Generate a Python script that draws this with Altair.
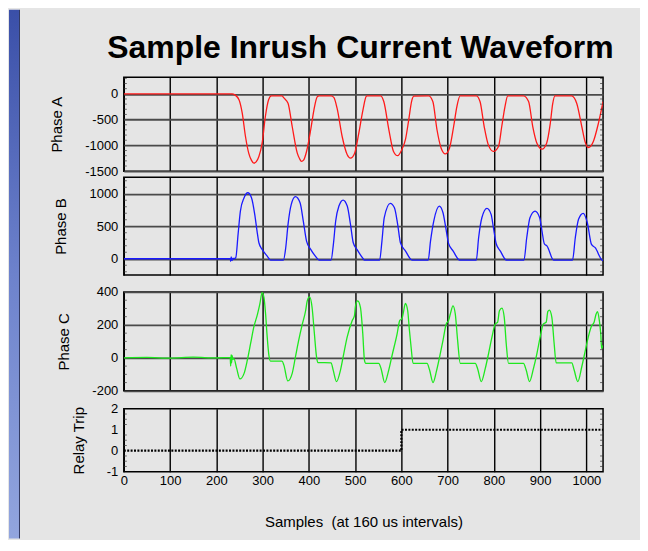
import altair as alt
import pandas as pd

# ---------------- data ----------------
x_ticks = [0, 100, 200, 300, 400, 500, 600, 700, 800, 900, 1000]
x_domain = [0, 1036]

phase_a_x = [0, 234, 240, 249, 256, 263, 270, 276, 281, 286, 292, 299, 306, 313, 319, 342, 346, 355, 364,
             375, 380, 384, 389, 395, 404, 411, 418, 422, 448, 454, 461, 472, 483, 490, 499, 508, 517, 524,
             526, 555, 562, 573, 583, 592, 601, 609, 616, 622, 627, 659, 668, 677, 686, 695, 704, 713, 720,
             727, 762, 770, 779, 788, 799, 810, 817, 824, 830, 864, 875, 884, 893, 904, 914, 922, 927, 932,
             968, 979, 990, 997, 1004, 1015, 1026, 1036]
phase_a_y = [0, 0, -20, -116, -376, -828, -1150, -1290, -1345, -1320, -1215, -957, -440, -116, -40, -40, -80,
             -182, -634, -1150, -1260, -1310, -1280, -1118, -697, -310, -60, -40, -40, -70, -279, -828, -1182,
             -1248, -1151, -764, -310, -50, -40, -40, -150, -697, -1118, -1200, -1080, -880, -500, -150, -45,
             -40, -150, -697, -1054, -1164, -1054, -634, -247, -40, -40, -150, -634, -990, -1118, -1022, -634,
             -247, -40, -40, -150, -634, -957, -1073, -957, -569, -200, -40, -40, -182, -634, -924, -1041,
             -924, -569, -150]

phase_b_x = [0, 230, 231, 232, 234, 236, 238, 242, 247, 252, 260, 268, 276, 283, 288, 292, 299, 310, 317, 345,
             350, 355, 362, 371, 381, 388, 395, 404, 414, 422, 448, 453, 458, 465, 474, 483, 490, 496, 504,
             517, 520, 553, 558, 563, 576, 585, 592, 598, 609, 623, 658, 663, 670, 682, 690, 696, 702, 712,
             726, 762, 767, 774, 785, 794, 799, 805, 814, 827, 865, 871, 878, 889, 899, 904, 909, 915, 929,
             970, 976, 983, 993, 1002, 1011, 1019, 1033, 1036]
phase_b_y = [0, 0, -40, 30, -30, 10, 0, 15, 375, 733, 938, 1015, 938, 683, 426, 246, 144, 41, -20, -20,
             169, 529, 836, 954, 861, 580, 272, 144, 41, -20, -20, 221, 580, 810, 903, 810, 529, 246, 144,
             5, -20, -20, 272, 631, 852, 785, 529, 246, 118, -20, -20, 272, 580, 810, 708, 477, 236, 118,
             -20, -20, 323, 631, 775, 683, 477, 231, 118, -20, -20, 323, 631, 733, 631, 426, 231, 195, -20,
             -20, 323, 606, 698, 554, 221, 170, -15, -30]

phase_c_x = [0, 50, 100, 150, 200, 230, 231, 232, 233, 234, 236, 238, 244, 251, 260, 267, 274, 281, 289, 294,
             299, 303, 306.5, 310, 313.6, 317, 342, 346, 354.6, 364, 371, 378, 386, 393, 396.5, 401.5, 407,
             412, 416.6, 419.4, 448, 452.6, 459.8, 468.4, 475.5, 482.8, 493.6, 498.6, 500.8, 505.8, 511.5,
             516.6, 520.2, 523, 551, 556, 564, 572.7, 580, 590.8, 596.4, 601.5, 604, 608.7, 613.7, 617, 621,
             625.3, 655.5, 661, 668.4, 675.6, 682.7, 690, 697, 702, 705.8, 711.6, 716.6, 721.6, 727.4,
             759.8, 764.7, 772.7, 781.4, 788.5, 795.8, 803, 808, 812, 817.4, 822.4, 826.7, 831.7, 864,
             869.8, 877, 885.6, 893, 900, 907, 913, 916.7, 920, 925.3, 930.3, 934.6, 968.5, 973.5, 981.4,
             990, 997, 1004, 1011.6, 1016.6, 1021, 1023.7, 1028, 1031, 1033, 1035.5]
phase_c_y = [0, 3, -2, 4, 0, 2, -50, 20, -30, 15, -10, -4, -64, -128, -94, -14, 86, 186, 266, 326,
             396, 366, 266, 126, 16, -20, -20, -44, -140, -94, 6, 106, 206, 286, 346, 370, 306,
             146, 6, -28, -30, -74, -144, -74, 26, 126, 226, 256, 316, 346, 306,
             146, -14, -34, -34, -64, -150, -74, 16, 146, 226, 240, 270, 330, 286, 180, 66,
             -34, -34, -74, -150, -84, 6, 106, 206, 226, 266, 316, 266, 106, -34,
             -34, -64, -144, -64, 26, 126, 206, 216, 286, 302, 246, 86, -34, -34,
             -74, -144, -64, 26, 126, 206, 216, 282, 290, 246, 86, -30, -30, -74, -144,
             -54, 36, 126, 196, 216, 266, 280, 226, 146, 56, 76]

relay_x = [0, 600, 1036]
relay_y = [0, 1, 1]

a_ticks = [-1500, -1000, -500, 0]
a_minor = [-1400, -1300, -1200, -1100, -900, -800, -700, -600, -400, -300, -200, -100, 100, 200, 300]
b_ticks = [0, 500, 1000]
b_minor = [-200, -100, 100, 200, 300, 400, 600, 700, 800, 900, 1100, 1200]
c_ticks = [-200, 0, 200, 400]
c_minor = [-150, -100, -50, 50, 100, 150, 250, 300, 350]
d_ticks = [-1, 0, 1, 2]
d_minor = [-0.75, -0.5, -0.25, 0.25, 0.5, 0.75, 1.25, 1.5, 1.75]

TITLE = "Sample Inrush Current Waveform"
X_TITLE = "Samples\u00a0 (at 160 us intervals)"

# ---------------- styling ----------------
FONT = "Liberation Sans, Arial"
W = 480
one = pd.DataFrame({"k": [0]})
PLAIN = "'' + datum.value"


def x_enc(show_labels):
    if show_labels:
        ax = alt.Axis(values=x_ticks, grid=True, gridColor="#000000", gridWidth=1.4, ticks=False,
                      domain=False, labels=True, labelFlush=False, labelPadding=3, labelExpr=PLAIN,
                      title=X_TITLE, titlePadding=27)
    else:
        ax = alt.Axis(values=x_ticks, grid=True, gridColor="#000000", gridWidth=1.4, ticks=False,
                      domain=False, labels=False, title=None)
    return alt.X("x:Q", scale=alt.Scale(domain=x_domain, nice=False, zero=False), axis=ax)


def y_axis(title, ticks, grid):
    return alt.Axis(values=ticks, grid=grid, gridColor="#4a4a4a", gridWidth=1.8,
                    ticks=False, domain=False, labelPadding=6, labelExpr=PLAIN,
                    title=title, titlePadding=20)


def panel(x, y, mark_kwargs, title, domain, ticks, minor, show_x=False, grid=True, extra=()):
    df = pd.DataFrame({"x": x, "y": y})
    scale = alt.Scale(domain=domain, nice=False, zero=False)
    main = alt.Chart(df).mark_line(clip=True, **mark_kwargs).encode(
        x=x_enc(show_x), y=alt.Y("y:Q", scale=scale, axis=y_axis(title, ticks, grid)))
    mdf = pd.DataFrame({"y": minor})
    minor_left = alt.Chart(mdf).mark_tick(size=3, thickness=1, color="#333333").encode(
        y=alt.Y("y:Q", scale=scale, axis=y_axis(title, ticks, grid)), x=alt.value(1.5))
    minor_right = alt.Chart(mdf).mark_tick(size=3, thickness=1, color="#333333").encode(
        y=alt.Y("y:Q", scale=scale, axis=y_axis(title, ticks, grid)), x=alt.value(W - 1.5))
    return alt.layer(*extra, main, minor_left, minor_right)


grad = alt.Gradient(gradient="linear", x1=0, x2=0, y1=0, y2=1,
                    stops=[alt.GradientStop(color="#3a4fa8", offset=0),
                           alt.GradientStop(color="#6d82cc", offset=0.5),
                           alt.GradientStop(color="#92a5de", offset=1)])

strip = alt.Chart(one).mark_rect(fill=grad).encode(
    x=alt.value(-115), x2=alt.value(-105), y=alt.value(-67.7), y2=alt.value(462))
strip_edge = alt.Chart(one).mark_rect(fill="#2e3760").encode(
    x=alt.value(-105), x2=alt.value(-104), y=alt.value(-67.7), y2=alt.value(462))
title_text = alt.Chart(one).mark_text(text=TITLE, font=FONT, fontSize=32, fontWeight="bold",
                                      align="center", baseline="alphabetic", color="black").encode(
    x=alt.value(237), y=alt.value(-19))

wave_style = dict(strokeWidth=1.3, interpolate="monotone")

panel_a = panel(phase_a_x, phase_a_y, dict(color="#ff1a1a", **wave_style), "Phase A", [-1500, 320],
                a_ticks, a_minor, extra=(strip, strip_edge, title_text)).properties(width=W, height=94)

panel_b = panel(phase_b_x, phase_b_y, dict(color="#1a1aff", **wave_style), "Phase B", [-250, 1255],
                b_ticks, b_minor).properties(width=W, height=98)

panel_c = panel(phase_c_x, phase_c_y, dict(color="#1ee81e", **wave_style), "Phase C", [-200, 400],
                c_ticks, c_minor).properties(width=W, height=99)

panel_d = panel(relay_x, relay_y,
                dict(color="black", strokeWidth=2.2, strokeDash=[2, 1.4], interpolate="step-after"),
                "Relay Trip", [-1, 2], d_ticks, d_minor, show_x=True, grid=False
                ).properties(width=W, height=63)


def spacer(h):
    return alt.Chart(one).mark_point(opacity=0).encode(
        x=alt.X("k:Q", axis=None), y=alt.Y("k:Q", axis=None)
    ).properties(width=W, height=h, view=alt.ViewBackground(strokeOpacity=0))


chart = alt.vconcat(
    panel_a, panel_b, spacer(5), panel_c, spacer(6), panel_d, spacing=6, bounds="flush"
).properties(
    padding={"left": 0, "top": 0, "right": 25, "bottom": 0},
    background="#e5e5e5",
).configure_view(
    stroke="black", strokeWidth=1.5
).configure_axis(
    labelFont=FONT, labelFontSize=13, labelColor="black",
    titleFont=FONT, titleFontSize=15, titleFontWeight="normal", titleColor="black",
)

chart.save("out.html", embed_options={"renderer": "svg", "actions": False})
